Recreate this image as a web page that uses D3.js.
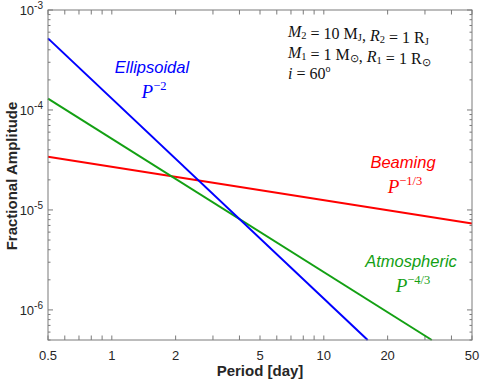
<!DOCTYPE html>
<html>
<head>
<meta charset="utf-8">
<script src="https://cdn.jsdelivr.net/npm/d3@7"></script>
<style>
  body { margin: 0; background: #fff; }
</style>
</head>
<body>
<div id="chart"></div>
<script>
// endpoints of each power law (period in days, amplitude)
var ellPeriod = [0.5, 16.1]
var ellAmp = [5.2e-4, 5e-7]
var atmPeriod = [0.5, 32.3]
var atmAmp = [1.3e-4, 5e-7]
var beamPeriod = [0.5, 50]
var beamAmp = [3.4e-5, 7.3e-6]

var xTicks = [0.5, 1, 2, 5, 10, 20, 50]
var yTicks = [1e-6, 1e-5, 1e-4, 1e-3]
var yTickExp = ["-6", "-5", "-4", "-3"]

var W = 480, H = 381
var pLeft = 48, pRight = 472, pTop = 10, pBottom = 340

var sans = "Liberation Sans, Arial, sans-serif"
var serif = "Liberation Serif, Times New Roman, serif"

var svg = d3.select("#chart").append("svg")
  .attr("width", W).attr("height", H)
  .attr("font-family", sans)

var x = d3.scaleLog().domain([0.5, 50]).range([pLeft, pRight])
var y = d3.scaleLog().domain([5e-7, 1e-3]).range([pBottom, pTop])

var axisCol = "#7a7a7a"
var textCol = "#262626"

// minor ticks
var xMinor = []
;[0.1, 1, 10].forEach(function(d){ for (var k = 1; k < 10; k++) { var v = d*k; if (v >= 0.5 && v <= 50) xMinor.push(v) } })
var yMinor = []
;[1e-7, 1e-6, 1e-5, 1e-4].forEach(function(d){ for (var k = 1; k < 10; k++) { var v = d*k; if (v >= 5e-7 && v <= 1e-3) yMinor.push(v) } })
yMinor.push(1e-3)

var g = svg.append("g")
xMinor.forEach(function(v){
  var len = 4.5
  g.append("line").attr("x1", x(v)).attr("x2", x(v)).attr("y1", pBottom).attr("y2", pBottom - len).attr("stroke", axisCol)
  g.append("line").attr("x1", x(v)).attr("x2", x(v)).attr("y1", pTop).attr("y2", pTop + len).attr("stroke", axisCol)
})
yMinor.forEach(function(v){
  var major = yTicks.some(function(t){ return Math.abs(t - v) / v < 1e-6 })
  var len = major ? 5 : 2.5
  g.append("line").attr("y1", y(v)).attr("y2", y(v)).attr("x1", pLeft).attr("x2", pLeft + len).attr("stroke", axisCol)
  g.append("line").attr("y1", y(v)).attr("y2", y(v)).attr("x1", pRight).attr("x2", pRight - len).attr("stroke", axisCol)
})

// tick labels
xTicks.forEach(function(v){
  svg.append("text").attr("x", x(v)).attr("y", pBottom + 20)
    .attr("text-anchor", "middle").attr("font-size", 13).attr("fill", textCol)
    .text(v)
})
yTicks.forEach(function(v, i){
  var t = svg.append("text").attr("x", pLeft - 5).attr("y", y(v) + 5)
    .attr("text-anchor", "end").attr("font-size", 13).attr("fill", textCol)
  t.append("tspan").text("10")
  t.append("tspan").attr("dy", -6).attr("font-size", 10).text(yTickExp[i])
})

// lines
var line = d3.line().x(function(d){ return x(d[0]) }).y(function(d){ return y(d[1]) })
function drawLine(per, amp, col){
  svg.append("path").datum(d3.zip(per, amp))
    .attr("d", line).attr("fill", "none").attr("stroke", col).attr("stroke-width", 2)
}
drawLine(beamPeriod, beamAmp, "#ff0000")
drawLine(atmPeriod, atmAmp, "#13a013")
drawLine(ellPeriod, ellAmp, "#0000ff")

// box
svg.append("rect").attr("x", pLeft).attr("y", pTop).attr("width", pRight - pLeft).attr("height", pBottom - pTop)
  .attr("fill", "none").attr("stroke", axisCol).attr("stroke-width", 1)

// curve labels
function curveLabel(cx, cy, name, exp, col){
  svg.append("text").attr("x", cx).attr("y", cy).attr("text-anchor", "middle")
    .attr("font-size", 16.5).attr("font-style", "italic").attr("fill", col).text(name)
  var t = svg.append("text").attr("x", cx + 2).attr("y", cy + 25).attr("text-anchor", "middle")
    .attr("font-family", serif).attr("font-size", 19).attr("fill", col)
  t.append("tspan").attr("font-style", "italic").text("P")
  t.append("tspan").attr("dy", -8).attr("font-size", 12.5).text(exp)
}
curveLabel(152, 73, "Ellipsoidal", "\u22122", "#0000ff")
curveLabel(403, 168, "Beaming", "\u22121/3", "#ff0000")
curveLabel(411, 267, "Atmospheric", "\u22124/3", "#13a013")

// parameter box
var pl = svg.append("g").attr("font-family", serif).attr("font-size", 16).attr("fill", "#111")
function sub(t, s){ t.append("tspan").attr("dy", 2).attr("font-size", 10.5).text(s); t.append("tspan").attr("dy", -2).text("") }
var t1 = pl.append("text").attr("x", 288).attr("y", 37)
t1.append("tspan").attr("font-style", "italic").text("M")
sub(t1, "2")
t1.append("tspan").text(" = 10 M")
sub(t1, "J")
t1.append("tspan").text(", ")
t1.append("tspan").attr("font-style", "italic").text("R")
sub(t1, "2")
t1.append("tspan").text(" = 1 R")
sub(t1, "J")
var t2 = pl.append("text").attr("x", 288).attr("y", 58)
t2.append("tspan").attr("font-style", "italic").text("M")
sub(t2, "1")
t2.append("tspan").text(" = 1 M")
sub(t2, "\u2299")
t2.append("tspan").text(", ")
t2.append("tspan").attr("font-style", "italic").text("R")
sub(t2, "1")
t2.append("tspan").text(" = 1 R")
sub(t2, "\u2299")
var t3 = pl.append("text").attr("x", 288).attr("y", 79)
t3.append("tspan").attr("font-style", "italic").text("i")
t3.append("tspan").text(" = 60")
t3.append("tspan").attr("dy", -7).attr("font-size", 10).text("o")

// axis titles
svg.append("text").attr("x", 260).attr("y", 376).attr("text-anchor", "middle")
  .attr("font-size", 15).attr("font-weight", "bold").attr("fill", textCol).text("Period [day]")
svg.append("text").attr("transform", "translate(17,176) rotate(-90)")
  .attr("text-anchor", "middle").attr("font-size", 15).attr("font-weight", "bold").attr("fill", textCol)
  .text("Fractional Amplitude")
</script>
</body>
</html>
